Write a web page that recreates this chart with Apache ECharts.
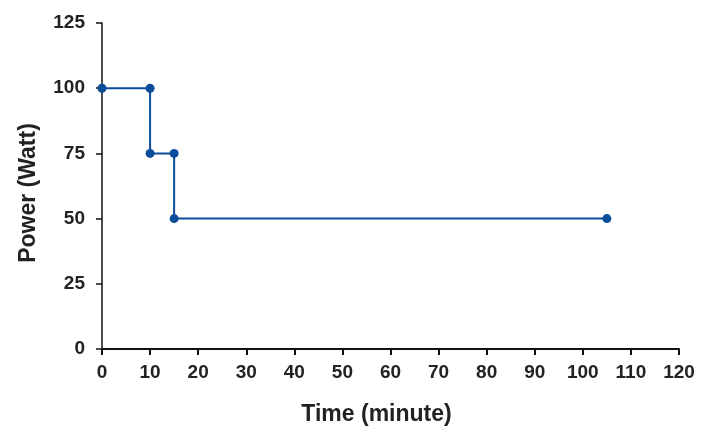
<!DOCTYPE html>
<html><head><meta charset="utf-8">
<script src="https://cdn.jsdelivr.net/npm/echarts@6/dist/echarts.min.js"></script>
<style>html,body{margin:0;padding:0;background:#fff}#c{width:708px;height:439px}</style>
</head><body><div id="c"></div>
<script>
var timeValues = [0, 10, 10, 15, 15, 105];
var powerValues = [100, 100, 75, 75, 50, 50];
var xName = 'Time (minute)';
var yName = 'Power (Watt)';
var chart = echarts.init(document.getElementById('c'));
var pts = timeValues.map(function(t, i){ return [t, powerValues[i]]; });
chart.setOption({
  animation: false,
  grid: {left: 102, right: 29, top: 23, bottom: 90},
  xAxis: {
    type: 'value', min: 0, max: 120, interval: 10,
    name: xName, nameLocation: 'middle', nameGap: 54,
    nameTextStyle: {fontFamily: 'Liberation Sans', fontWeight: 'bold', fontSize: 23, color: '#222', padding: [0, 28, 0, 0]},
    axisLine: {lineStyle: {color: '#111', width: 2}},
    axisTick: {show: true, length: 6, lineStyle: {color: '#111', width: 2}},
    axisLabel: {fontFamily: 'Liberation Sans', fontWeight: 'bold', fontSize: 19, color: '#222', margin: 14},
    splitLine: {show: false}
  },
  yAxis: {
    type: 'value', min: 0, max: 125, interval: 25,
    name: yName, nameLocation: 'middle', nameGap: 62, nameRotate: 90,
    nameTextStyle: {fontFamily: 'Liberation Sans', fontWeight: 'bold', fontSize: 23, color: '#222', padding: [0, 14, 0, 0]},
    axisLine: {show: true, lineStyle: {color: '#111', width: 1.5}},
    axisTick: {show: true, length: 6, lineStyle: {color: '#111', width: 1.5}},
    axisLabel: {fontFamily: 'Liberation Sans', fontWeight: 'bold', fontSize: 19, color: '#222', margin: 17},
    splitLine: {show: false}
  },
  series: [{
    type: 'line', data: pts,
    symbol: 'circle', symbolSize: 9,
    lineStyle: {color: '#0a4d9a', width: 2},
    itemStyle: {color: '#0a4d9a'}
  }]
});
</script></body></html>
